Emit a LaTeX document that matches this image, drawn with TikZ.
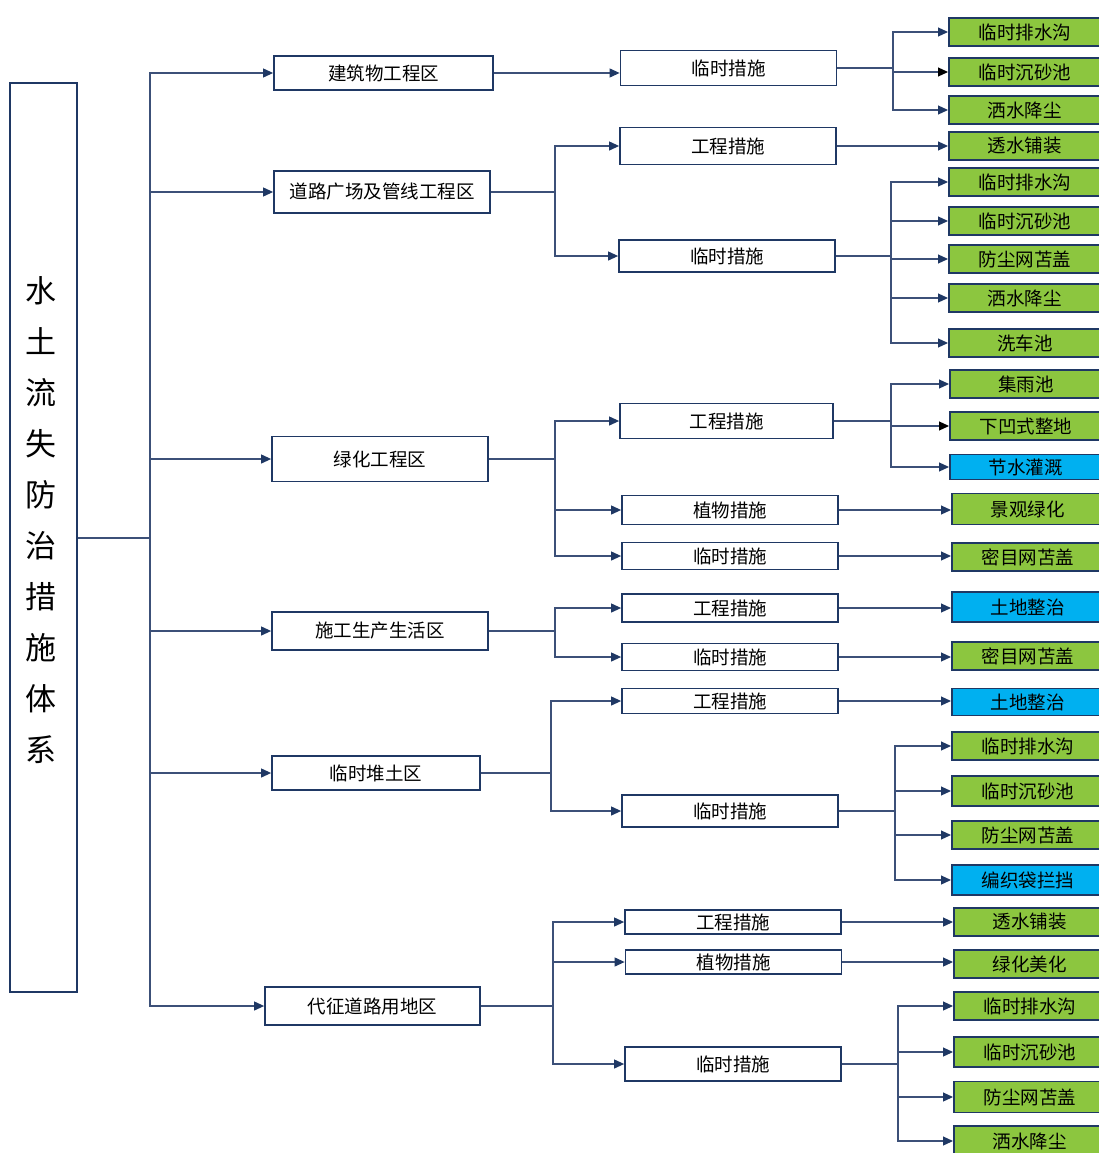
\documentclass[tikz,border=0pt]{standalone}
\usepackage{fontspec}
\setmainfont{Noto Sans CJK SC}
\usepackage{tikz}
\usetikzlibrary{arrows.meta, positioning, calc}

\definecolor{navyline}{RGB}{31,56,100}
\definecolor{wireline}{RGB}{60,80,120}
\definecolor{leafgreen}{RGB}{140,198,63}
\definecolor{leafblue}{RGB}{0,176,240}

\begin{document}
\begin{tikzpicture}[x=1pt, y=-1pt,
    rootbox/.style={rectangle, draw=navyline, line width=1.2pt, minimum width=67pt, minimum height=909pt},
    roottext/.style={align=center, font=\fontsize{31}{51}\selectfont},
    zone/.style={rectangle, draw=navyline, line width=1.8pt, fill=white, minimum height=34pt, font=\fontsize{18.5}{22}\selectfont},
    measure/.style={rectangle, draw=navyline, line width=1.8pt, fill=white, minimum width=216pt, minimum height=30pt, font=\fontsize{18.5}{22}\selectfont},
    leaf/.style={rectangle, draw=navyline, line width=1.8pt, fill=leafgreen, anchor=west, minimum width=152pt, minimum height=28pt, font=\fontsize{18.5}{22}\selectfont},
    leafb/.style={leaf, fill=leafblue},
    wire/.style={draw=wireline, line width=1.1pt},
    arrow/.style={wire, -{Triangle[length=10pt, width=9pt, color=navyline]}},
    darkarrow/.style={wire, -{Triangle[length=10pt, width=9pt, color=black]}}
]
\useasboundingbox (0,0) rectangle (1098,1153);
\fill[white] (0,0) rectangle (1098,1153);

% Root
\node[rootbox] (root) at (43.5,537.5) {};
\node[roottext] (rootlabel) at (41,520) {水\\土\\流\\失\\防\\治\\措\\施\\体\\系};

% Zones
\node[zone, minimum width=219pt] (z1) at (383.5,73) {建筑物工程区};
\node[zone, minimum width=216pt, minimum height=42pt] (z2) at (382,192) {道路广场及管线工程区};
\node[zone, minimum width=216pt, minimum height=45pt] (z3) at (380,459) {绿化工程区};
\node[zone, minimum width=216pt, minimum height=38pt] (z4) at (380,631) {施工生产生活区};
\node[zone, minimum width=208pt] (z5) at (376,773) {临时堆土区};
\node[zone, minimum width=215pt, minimum height=38pt] (z6) at (372.5,1006) {代征道路用地区};

% Measures
\node[measure, minimum height=35pt] (m1a) at (728.5,68) {临时措施};
\node[measure, minimum height=37pt] (m2a) at (728,146) {工程措施};
\node[measure, minimum height=32pt] (m2b) at (727,256) {临时措施};
\node[measure, minimum width=213pt, minimum height=35pt] (m3a) at (726.5,421) {工程措施};
\node[measure, minimum height=29pt] (m3b) at (730,510) {植物措施};
\node[measure, minimum height=27pt] (m3c) at (730,556) {临时措施};
\node[measure, minimum height=28pt] (m4a) at (730,608) {工程措施};
\node[measure, minimum height=27pt] (m4b) at (730,657) {临时措施};
\node[measure, minimum height=25pt] (m5a) at (730,701) {工程措施};
\node[measure, minimum height=32pt] (m5b) at (730,811) {临时措施};
\node[measure, minimum height=24pt] (m6a) at (733,922) {工程措施};
\node[measure, minimum height=24pt] (m6b) at (733.5,962) {植物措施};
\node[measure, minimum height=34pt] (m6c) at (733,1064) {临时措施};

% Leaves
\node[leaf] (l1) at (948,32) {临时排水沟};
\node[leaf] (l2) at (948,72) {临时沉砂池};
\node[leaf] (l3) at (948,110) {洒水降尘};
\node[leaf] (l4) at (948,146) {透水铺装};
\node[leaf] (l5) at (948,182) {临时排水沟};
\node[leaf] (l6) at (948,221) {临时沉砂池};
\node[leaf] (l7) at (948,259) {防尘网苫盖};
\node[leaf] (l8) at (948,298) {洒水降尘};
\node[leaf] (l9) at (948,343) {洗车池};
\node[leaf] (l10) at (949,384) {集雨池};
\node[leaf] (l11) at (949,426) {下凹式整地};
\node[leafb, minimum height=25pt] (l12) at (949,467) {节水灌溉};
\node[leaf, minimum height=31pt] (l13) at (951,509) {景观绿化};
\node[leaf] (l14) at (951,557) {密目网苫盖};
\node[leafb, minimum height=30pt] (l15) at (951,607) {土地整治};
\node[leaf] (l16) at (951,656) {密目网苫盖};
\node[leafb, minimum height=27pt] (l17) at (951,702) {土地整治};
\node[leaf] (l18) at (951,746) {临时排水沟};
\node[leaf, minimum height=30pt] (l19) at (951,791) {临时沉砂池};
\node[leaf] (l20) at (951,835) {防尘网苫盖};
\node[leafb, minimum height=30pt] (l21) at (951,880) {编织袋拦挡};
\node[leaf] (l22) at (953,922) {透水铺装};
\node[leaf] (l23) at (953,964) {绿化美化};
\node[leaf] (l24) at (953,1006) {临时排水沟};
\node[leaf, minimum height=30pt] (l25) at (953,1052) {临时沉砂池};
\node[leaf, minimum height=31pt] (l26) at (953,1097) {防尘网苫盖};
\node[leaf, minimum height=30pt] (l27) at (953,1141) {洒水降尘};

% Split points
\coordinate (t0) at (150,538);
\coordinate (s2) at (555,192);
\coordinate (s3) at (555,459);
\coordinate (s4) at (555,631);
\coordinate (s5) at (551,773);
\coordinate (s6) at (553,1006);
\coordinate (k1) at (893,68);
\coordinate (k2) at (891,256);
\coordinate (k3) at (891,421);
\coordinate (k5) at (895,811);
\coordinate (k6) at (898,1064);

% Root to zones
\draw[wire] (root.east |- t0) -- (t0);
\foreach \z in {z1,z2,z3,z4,z5,z6}
  \draw[arrow] (t0) |- (\z.west);

% Zones to measures
\draw[arrow] (z1.east) -- (z1.east -| m1a.west);
\draw[wire] (z2.east) -- (s2);
\draw[arrow] (s2) |- (m2a.west);
\draw[arrow] (s2) |- (m2b.west);
\draw[wire] (z3.east) -- (s3);
\draw[arrow] (s3) |- (m3a.west);
\draw[arrow] (s3) |- (m3b.west);
\draw[arrow] (s3) |- (m3c.west);
\draw[wire] (z4.east) -- (s4);
\draw[arrow] (s4) |- (m4a.west);
\draw[arrow] (s4) |- (m4b.west);
\draw[wire] (z5.east) -- (s5);
\draw[arrow] (s5) |- (m5a.west);
\draw[arrow] (s5) |- (m5b.west);
\draw[wire] (z6.east) -- (s6);
\draw[arrow] (s6) |- (m6a.west);
\draw[arrow] (s6) |- (m6b.west);
\draw[arrow] (s6) |- (m6c.west);

% Measures to leaves
\draw[wire] (m1a.east) -- (k1);
\draw[arrow] (k1) |- (l1.west);
\draw[darkarrow] (k1) |- (l2.west);
\draw[arrow] (k1) |- (l3.west);
\draw[arrow] (m2a.east) -- (m2a.east -| l4.west);
\draw[wire] (m2b.east) -- (k2);
\foreach \l in {l5,l6,l7,l8,l9}
  \draw[arrow] (k2) |- (\l.west);
\draw[wire] (m3a.east) -- (k3);
\draw[arrow] (k3) |- (l10.west);
\draw[darkarrow] (k3) |- (l11.west);
\draw[arrow] (k3) |- (l12.west);
\draw[arrow] (m3b.east) -- (m3b.east -| l13.west);
\draw[arrow] (m3c.east) -- (m3c.east -| l14.west);
\draw[arrow] (m4a.east) -- (m4a.east -| l15.west);
\draw[arrow] (m4b.east) -- (m4b.east -| l16.west);
\draw[arrow] (m5a.east) -- (m5a.east -| l17.west);
\draw[wire] (m5b.east) -- (k5);
\foreach \l in {l18,l19,l20,l21}
  \draw[arrow] (k5) |- (\l.west);
\draw[arrow] (m6a.east) -- (m6a.east -| l22.west);
\draw[arrow] (m6b.east) -- (m6b.east -| l23.west);
\draw[wire] (m6c.east) -- (k6);
\foreach \l in {l24,l25,l26,l27}
  \draw[arrow] (k6) |- (\l.west);

\end{tikzpicture}
\end{document}
